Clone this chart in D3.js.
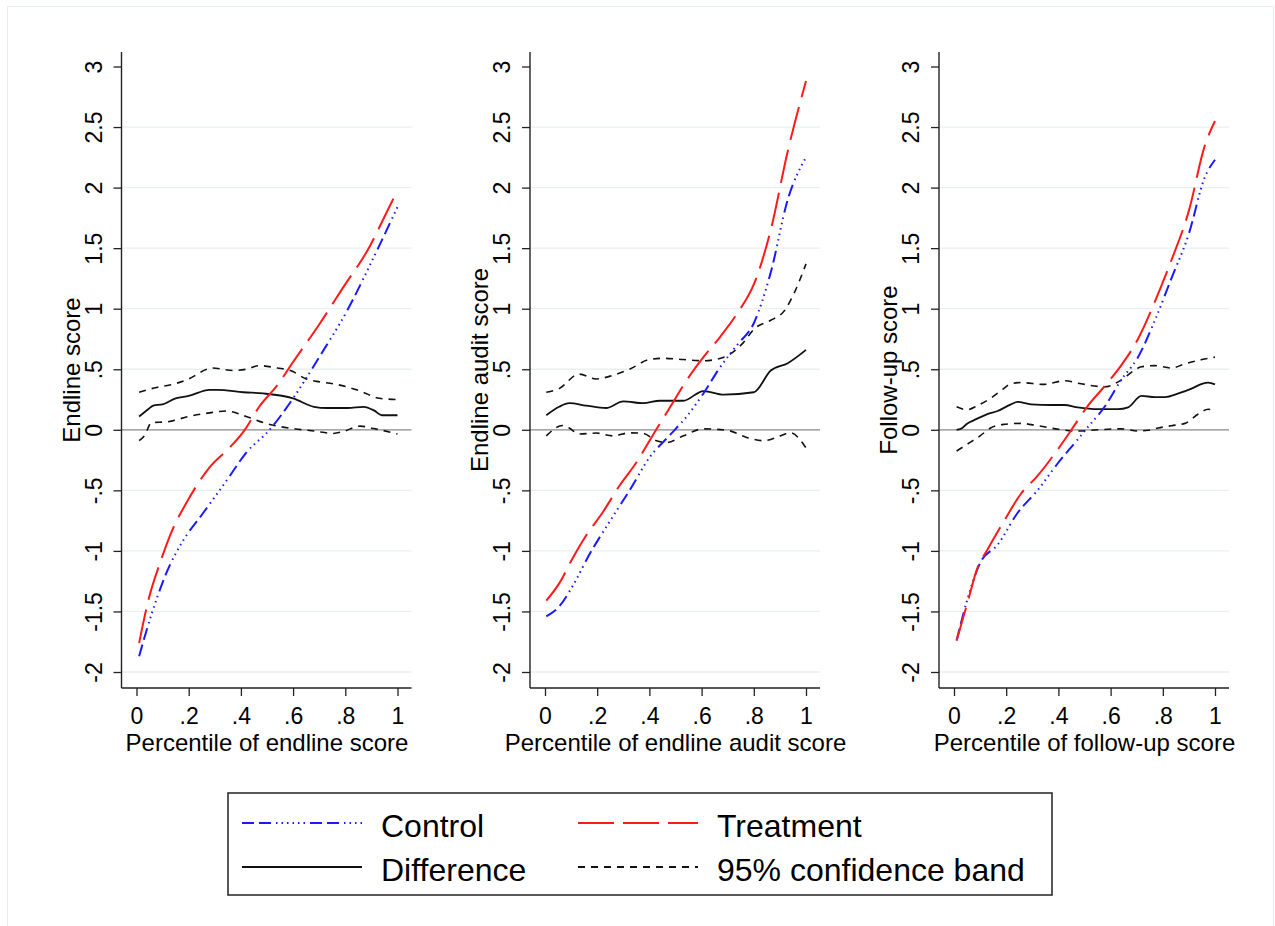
<!DOCTYPE html>
<html>
<head>
<meta charset="utf-8">
<script src="https://cdn.jsdelivr.net/npm/d3@7"></script>
<style>
  body { margin: 0; background: #fff; }
  text { font-family: "Liberation Sans", Arial, sans-serif; fill: #000; }
</style>
</head>
<body>
<div id="chart-area"></div>
<script>
// canvas size
const svgWidth = 1275,
      svgHeight = 926;

// ticks
const xTicks = [0, 0.2, 0.4, 0.6, 0.8, 1];
const xTickLabels = ["0", ".2", ".4", ".6", ".8", "1"];
const yTicks = [-2, -1.5, -1, -0.5, 0, 0.5, 1, 1.5, 2, 2.5, 3];
const yTickLabels = ["-2", "-1.5", "-1", "-.5", "0", ".5", "1", "1.5", "2", "2.5", "3"];

// panel titles
const yTitles = ["Endline score", "Endline audit score", "Follow-up score"];
const xTitles = ["Percentile of endline score", "Percentile of endline audit score", "Percentile of follow-up score"];

// legend
const legendLabels = ["Control", "Treatment", "Difference", "95% confidence band"];

// ---- panel 1: endline score  [percentile, value]
const p1Control = [[0.01,-1.87],[0.058,-1.52],[0.115,-1.18],[0.18,-0.91],[0.256,-0.685],[0.345,-0.42],[0.42,-0.19],[0.51,0.0],[0.6,0.26],[0.70,0.60],[0.806,0.98],[0.91,1.43],[1.0,1.84]];
const p1Treat = [[0.01,-1.76],[0.05,-1.37],[0.09,-1.10],[0.128,-0.875],[0.2,-0.57],[0.28,-0.31],[0.36,-0.14],[0.415,0.0],[0.47,0.19],[0.54,0.37],[0.6,0.56],[0.70,0.87],[0.79,1.17],[0.895,1.52],[0.93,1.67],[1.0,1.98]];
const p1Diff = [[0.01,0.11],[0.045,0.17],[0.064,0.20],[0.1,0.21],[0.15,0.26],[0.2,0.28],[0.28,0.33],[0.31,0.33],[0.41,0.31],[0.485,0.30],[0.6,0.26],[0.68,0.19],[0.73,0.18],[0.81,0.18],[0.87,0.19],[0.91,0.16],[0.94,0.12],[1.0,0.12]];
const p1Upper = [[0.01,0.31],[0.077,0.35],[0.128,0.37],[0.2,0.42],[0.27,0.50],[0.29,0.51],[0.37,0.49],[0.42,0.50],[0.47,0.53],[0.54,0.51],[0.59,0.49],[0.65,0.42],[0.69,0.40],[0.755,0.38],[0.857,0.32],[0.93,0.26],[1.0,0.25]];
const p1Lower = [[0.01,-0.09],[0.03,-0.05],[0.058,0.06],[0.115,0.065],[0.2,0.11],[0.28,0.14],[0.345,0.155],[0.42,0.11],[0.5,0.05],[0.6,0.01],[0.68,-0.01],[0.755,-0.03],[0.79,-0.015],[0.857,0.03],[0.91,0.01],[1.0,-0.035]];

// ---- panel 2: endline audit score
const p2Control = [[0.005,-1.54],[0.054,-1.46],[0.106,-1.29],[0.17,-1.03],[0.247,-0.76],[0.324,-0.50],[0.4,-0.23],[0.48,-0.04],[0.543,0.11],[0.607,0.30],[0.672,0.52],[0.736,0.70],[0.8,0.88],[0.865,1.30],[0.93,1.90],[1.0,2.25]];
const p2Treat = [[0.005,-1.41],[0.054,-1.27],[0.106,-1.06],[0.157,-0.875],[0.22,-0.685],[0.286,-0.46],[0.35,-0.27],[0.42,-0.02],[0.48,0.19],[0.543,0.41],[0.607,0.60],[0.672,0.77],[0.736,0.96],[0.8,1.20],[0.865,1.65],[0.93,2.30],[1.0,2.88]];
const p2Diff = [[0.005,0.12],[0.054,0.19],[0.093,0.22],[0.157,0.20],[0.234,0.18],[0.3,0.235],[0.376,0.22],[0.44,0.24],[0.53,0.24],[0.607,0.32],[0.685,0.29],[0.8,0.31],[0.865,0.49],[0.93,0.55],[1.0,0.66]];
const p2Upper = [[0.005,0.31],[0.054,0.34],[0.13,0.46],[0.196,0.42],[0.26,0.45],[0.324,0.50],[0.4,0.58],[0.453,0.59],[0.53,0.58],[0.607,0.57],[0.685,0.60],[0.76,0.72],[0.8,0.83],[0.865,0.905],[0.916,0.98],[0.955,1.13],[1.0,1.37]];
const p2Lower = [[0.005,-0.05],[0.067,0.035],[0.093,0.015],[0.13,-0.035],[0.196,-0.027],[0.26,-0.05],[0.324,-0.025],[0.376,-0.03],[0.427,-0.09],[0.466,-0.105],[0.53,-0.05],[0.607,0.008],[0.7,-0.005],[0.775,-0.065],[0.84,-0.09],[0.89,-0.06],[0.94,-0.025],[1.0,-0.15]];

// ---- panel 3: follow-up score
const p3Control = [[0.01,-1.74],[0.05,-1.41],[0.1,-1.10],[0.167,-0.95],[0.244,-0.685],[0.32,-0.50],[0.4,-0.27],[0.474,-0.08],[0.51,0.015],[0.577,0.19],[0.64,0.41],[0.705,0.60],[0.77,0.905],[0.833,1.25],[0.9,1.62],[0.96,2.08],[1.0,2.23]];
const p3Treat = [[0.01,-1.74],[0.05,-1.44],[0.09,-1.14],[0.128,-0.99],[0.19,-0.76],[0.256,-0.53],[0.32,-0.38],[0.4,-0.155],[0.45,0.0],[0.51,0.19],[0.577,0.36],[0.64,0.53],[0.705,0.75],[0.77,1.06],[0.833,1.40],[0.9,1.81],[0.96,2.34],[1.0,2.55]];
const p3Diff = [[0.01,0.0],[0.032,0.015],[0.05,0.05],[0.077,0.08],[0.128,0.13],[0.167,0.155],[0.218,0.21],[0.244,0.23],[0.295,0.21],[0.372,0.205],[0.423,0.205],[0.474,0.185],[0.55,0.17],[0.628,0.17],[0.667,0.185],[0.718,0.28],[0.77,0.27],[0.808,0.27],[0.86,0.30],[0.91,0.34],[0.95,0.38],[0.974,0.39],[1.0,0.375]];
const p3Upper = [[0.01,0.19],[0.05,0.165],[0.09,0.2],[0.14,0.26],[0.19,0.34],[0.218,0.38],[0.256,0.39],[0.346,0.375],[0.423,0.405],[0.487,0.38],[0.577,0.355],[0.64,0.41],[0.69,0.49],[0.718,0.52],[0.77,0.53],[0.833,0.51],[0.885,0.545],[0.95,0.58],[1.0,0.60]];
const p3Lower = [[0.01,-0.175],[0.05,-0.12],[0.1,-0.05],[0.14,0.015],[0.19,0.045],[0.256,0.053],[0.32,0.034],[0.4,0.004],[0.474,-0.01],[0.55,0.0],[0.64,0.008],[0.705,-0.01],[0.744,-0.004],[0.782,0.015],[0.833,0.034],[0.885,0.053],[0.936,0.13],[0.974,0.17],[1.0,0.15]];

const panels = [
  { control: p1Control, treat: p1Treat, diff: p1Diff, upper: p1Upper, lower: p1Lower },
  { control: p2Control, treat: p2Treat, diff: p2Diff, upper: p2Upper, lower: p2Lower },
  { control: p3Control, treat: p3Treat, diff: p3Diff, upper: p3Upper, lower: p3Lower }
];

// layout: y-axis position of each panel
const axisX = [121.5, 530, 939];
const plotTop = 52, plotBottom = 688, plotW = 290;

// line styles
const controlDash = "12,5,12,5,1.5,4,1.5,4,1.5,4,1.5,4,1.5,4,1.5,5";
const treatDash = "34,10";
const ciDash = "7,6";

var svg = d3.select("#chart-area").append("svg")
    .attr("width", svgWidth)
    .attr("height", svgHeight);

svg.append("rect")
    .attr("width", svgWidth).attr("height", svgHeight)
    .attr("fill", "#fff");

// faint outer frame
svg.append("rect")
    .attr("x", 7.5).attr("y", 6.5)
    .attr("width", 1266).attr("height", 940)
    .attr("fill", "none")
    .attr("stroke", "#e6eeee")
    .attr("stroke-width", 1);

// Scales
var xScale = d3.scaleLinear().domain([0, 1]).range([15, 276]);
var yScale = d3.scaleLinear().domain([-2, 3]).range([plotBottom - 16, plotTop + 14.5]);

panels.forEach(function(p, i){
    var g = svg.append("g")
        .attr("transform", "translate(" + axisX[i] + ",0)");

    // grid lines
    g.selectAll(".grid")
        .data(yTicks.filter(function(d){ return d !== 0 && d !== 3; }))
        .enter().append("line")
        .attr("class", "grid")
        .attr("x1", 0).attr("x2", plotW)
        .attr("y1", function(d){ return yScale(d); })
        .attr("y2", function(d){ return yScale(d); })
        .attr("stroke", "#e8eff1")
        .attr("stroke-width", 1.3);

    // zero line
    g.append("line")
        .attr("x1", 0).attr("x2", plotW)
        .attr("y1", yScale(0)).attr("y2", yScale(0))
        .attr("stroke", "#8a8a8a")
        .attr("stroke-width", 1.3);

    // y axis
    var yAxis = g.append("g")
        .call(d3.axisLeft(yScale).tickValues(yTicks).tickSize(8)
              .tickFormat(function(d, j){ return yTickLabels[j]; }));
    yAxis.select(".domain")
        .attr("d", "M0," + plotTop + "V" + plotBottom)
        .attr("stroke", "#222").attr("stroke-width", 1.4);
    yAxis.selectAll(".tick line").attr("stroke", "#222").attr("stroke-width", 1.3);
    yAxis.selectAll(".tick text")
        .attr("x", null).attr("dy", null)
        .attr("transform", "translate(-20,0) rotate(-90)")
        .attr("text-anchor", "middle")
        .attr("font-size", "23px");

    // x axis
    var xAxis = g.append("g")
        .attr("transform", "translate(0," + plotBottom + ")")
        .call(d3.axisBottom(xScale).tickValues(xTicks).tickSize(8)
              .tickFormat(function(d, j){ return xTickLabels[j]; }));
    xAxis.select(".domain")
        .attr("d", "M0,0H" + plotW)
        .attr("stroke", "#222").attr("stroke-width", 1.4);
    xAxis.selectAll(".tick line").attr("stroke", "#222").attr("stroke-width", 1.3);
    xAxis.selectAll(".tick text")
        .attr("y", 36).attr("dy", null)
        .attr("font-size", "23px");

    // axis titles
    g.append("text")
        .attr("transform", "translate(-42," + ((plotTop + plotBottom) / 2) + ") rotate(-90)")
        .attr("text-anchor", "middle")
        .attr("font-size", "24px")
        .text(yTitles[i]);

    g.append("text")
        .attr("x", (xScale(0) + xScale(1)) / 2)
        .attr("y", 751)
        .attr("text-anchor", "middle")
        .attr("font-size", "24px")
        .text(xTitles[i]);

    // lines
    var line = d3.line()
        .x(function(d){ return xScale(d[0]); })
        .y(function(d){ return yScale(d[1]); })
        .curve(d3.curveMonotoneX);

    g.append("path").attr("d", line(p.upper))
        .attr("fill", "none").attr("stroke", "#111")
        .attr("stroke-width", 1.6).attr("stroke-dasharray", ciDash);
    g.append("path").attr("d", line(p.lower))
        .attr("fill", "none").attr("stroke", "#111")
        .attr("stroke-width", 1.6).attr("stroke-dasharray", ciDash);
    g.append("path").attr("d", line(p.diff))
        .attr("fill", "none").attr("stroke", "#111")
        .attr("stroke-width", 1.8);
    g.append("path").attr("d", line(p.control))
        .attr("fill", "none").attr("stroke", "#1a1aff")
        .attr("stroke-width", 2).attr("stroke-dasharray", controlDash);
    g.append("path").attr("d", line(p.treat))
        .attr("fill", "none").attr("stroke", "#ff1a1a")
        .attr("stroke-width", 2).attr("stroke-dasharray", treatDash);
});

// Legend
var legend = svg.append("g");
legend.append("rect")
    .attr("x", 228).attr("y", 793)
    .attr("width", 824).attr("height", 102)
    .attr("fill", "#fff")
    .attr("stroke", "#222").attr("stroke-width", 1.5);

var legendItems = [
    { label: legendLabels[0], x: 242, y: 823, color: "#1a1aff", dash: controlDash, w: 2.2 },
    { label: legendLabels[1], x: 578, y: 823, color: "#ff1a1a", dash: "36,9", w: 2.2 },
    { label: legendLabels[2], x: 242, y: 867, color: "#111", dash: null, w: 2 },
    { label: legendLabels[3], x: 578, y: 867, color: "#111", dash: ciDash, w: 1.8 }
];
legendItems.forEach(function(d){
    legend.append("line")
        .attr("x1", d.x).attr("x2", d.x + 120)
        .attr("y1", d.y).attr("y2", d.y)
        .attr("stroke", d.color)
        .attr("stroke-width", d.w)
        .attr("stroke-dasharray", d.dash);
    legend.append("text")
        .attr("x", d.x + 139)
        .attr("y", d.y + 14)
        .attr("font-size", "32px")
        .text(d.label);
});
</script>
</body>
</html>
